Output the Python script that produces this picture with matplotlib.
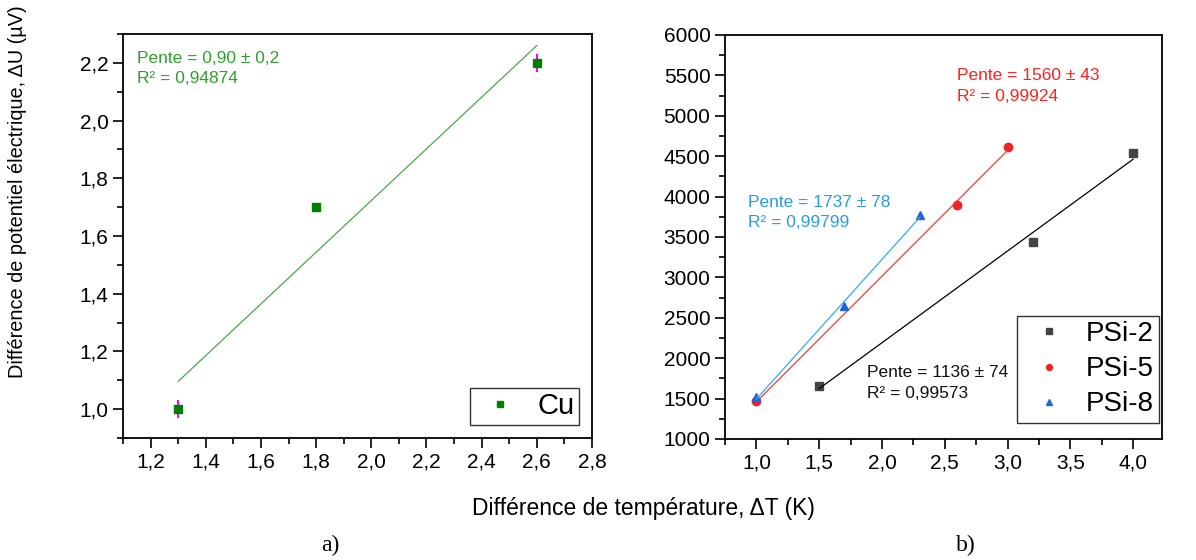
import matplotlib.pyplot as plt
import numpy as np
from matplotlib.ticker import MultipleLocator, FuncFormatter

plt.rcParams['font.family'] = ['Liberation Sans', 'DejaVu Sans']

# panel a) : copper
cu_dt = [1.3, 1.8, 2.6]
cu_du = [1.0, 1.7, 2.2]
cu_err = [0.03, 0.0, 0.03]

# panel b) : porous silicon
psi2_dt = [1.5, 3.2, 4.0]
psi2_du = [1660, 3440, 4540]
psi5_dt = [1.0, 2.6, 3.0]
psi5_du = [1470, 3900, 4610]
psi8_dt = [1.0, 1.7, 2.3]
psi8_du = [1520, 2650, 3770]

comma = FuncFormatter(lambda v, p: ('%.1f' % v).replace('.', ','))

fig = plt.figure(figsize=(11.96, 5.6), dpi=100)
ax1 = fig.add_axes([123 / 1196, 1 - 438 / 560, 469 / 1196, 404 / 560])
ax2 = fig.add_axes([725 / 1196, 1 - 439 / 560, 437 / 1196, 404 / 560])

# --- a)
ax1.errorbar(cu_dt, cu_du, yerr=cu_err, fmt='none', ecolor='#ff00ff', elinewidth=1.5)
ax1.plot(cu_dt, cu_du, 's', color='#008000', ms=6, label='Cu')
p = np.polyfit(cu_dt, cu_du, 1)
xs = np.array([cu_dt[0], cu_dt[-1]])
ax1.plot(xs, np.polyval(p, xs), color='#4aa84a', lw=0.9)
ax1.text(0.03, 0.958, 'Pente = 0,90 ± 0,2\nR² = 0,94874', transform=ax1.transAxes,
         color='#2ea02e', fontsize=12.5, va='top', linespacing=1.45)
ax1.set_xlim(1.1, 2.8)
ax1.set_ylim(0.9, 2.3)
ax1.xaxis.set_major_locator(MultipleLocator(0.2))
ax1.xaxis.set_minor_locator(MultipleLocator(0.1))
ax1.yaxis.set_major_locator(MultipleLocator(0.2))
ax1.yaxis.set_minor_locator(MultipleLocator(0.1))
ax1.xaxis.set_major_formatter(comma)
ax1.yaxis.set_major_formatter(comma)
ax1.set_ylabel('Différence de potentiel électrique, ΔU (µV)', fontsize=14.3)
ax1.yaxis.set_label_coords(-0.205, 0.61)
leg1 = ax1.legend(loc='lower right', fontsize=21, frameon=True, fancybox=False,
                  edgecolor='black', handlelength=1.75, handletextpad=0.4,
                  borderaxespad=0.45, borderpad=0.15, markerscale=0.7)
leg1.get_frame().set_linewidth(1.0)

# --- b)
for dt, du, mk, col, lcol, lab in [(psi2_dt, psi2_du, 's', '#444444', '#000000', 'PSi-2'),
                                   (psi5_dt, psi5_du, 'o', '#ee2222', '#ff3333', 'PSi-5'),
                                   (psi8_dt, psi8_du, '^', '#1a66dd', '#33aaff', 'PSi-8')]:
    ax2.plot(dt, du, mk, color=col, ms=6, label=lab)
    q = np.polyfit(dt, du, 1)
    xx = np.array([dt[0], dt[-1]])
    ax2.plot(xx, np.polyval(q, xx), color=lcol, lw=0.9)

ax2.text(2.6, 5590, 'Pente = 1560 ± 43\nR² = 0,99924', color='#ff2020', fontsize=12.5,
         va='top', linespacing=1.45)
ax2.text(0.93, 4020, 'Pente = 1737 ± 78\nR² = 0,99799', color='#2a9ae8', fontsize=12.5,
         va='top', linespacing=1.45)
ax2.text(1.88, 1910, 'Pente = 1136 ± 74\nR² = 0,99573', color='#111111', fontsize=12.5,
         va='top', linespacing=1.45)
ax2.set_xlim(0.75, 4.23)
ax2.set_ylim(1000, 6000)
ax2.xaxis.set_major_locator(MultipleLocator(0.5))
ax2.xaxis.set_minor_locator(MultipleLocator(0.25))
ax2.yaxis.set_major_locator(MultipleLocator(500))
ax2.yaxis.set_minor_locator(MultipleLocator(250))
ax2.xaxis.set_major_formatter(comma)
leg2 = ax2.legend(loc='lower right', bbox_to_anchor=(1 - 3 / 437, 16 / 404), fontsize=20,
                  frameon=True, fancybox=False, edgecolor='black', handlelength=1.85,
                  handletextpad=0.4, borderaxespad=0, borderpad=0.2, markerscale=0.7,
                  labelspacing=0.33)
leg2.get_frame().set_linewidth(1.0)

for ax in (ax1, ax2):
    for s in ax.spines.values():
        s.set_linewidth(1.3)
    ax.tick_params(which='both', direction='out', top=False, right=False, width=1.2)
    ax.tick_params(which='major', length=7, labelsize=15)
    ax.tick_params(which='minor', length=4)

fig.text(643 / 1196, 1 - 508 / 560, 'Différence de température, ΔT (K)', ha='center',
         va='center', fontsize=16.5)
fig.text(330 / 1196, 1 - 545 / 560, 'a)', ha='center', va='center', fontsize=17,
         family='Liberation Serif')
fig.text(966 / 1196, 1 - 545 / 560, 'b)', ha='center', va='center', fontsize=17,
         family='Liberation Serif')

fig.savefig('out.png', dpi=100)
